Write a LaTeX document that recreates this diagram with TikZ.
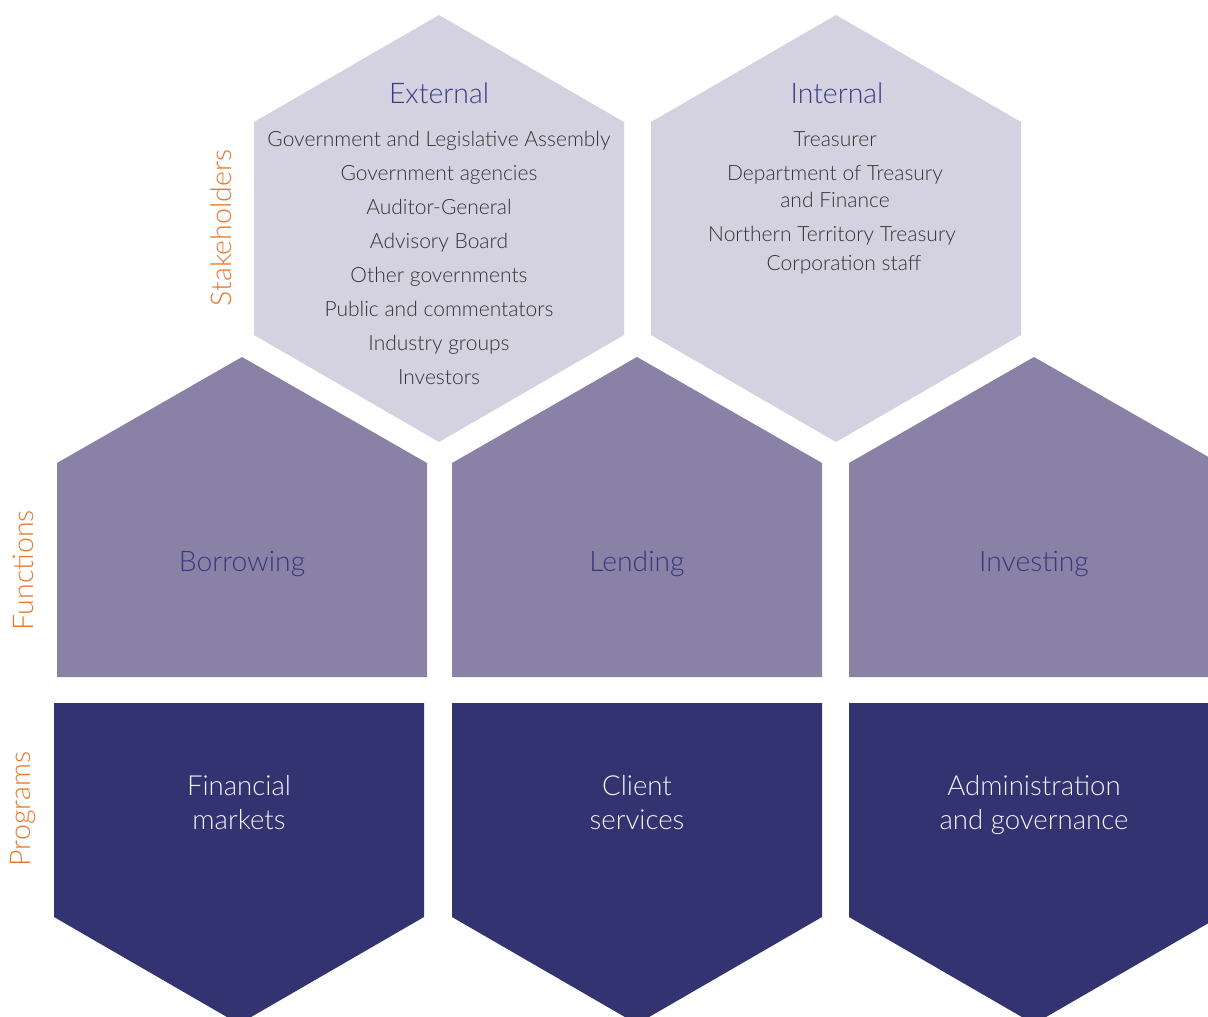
\documentclass[tikz,border=0pt]{standalone}
\usepackage{fontspec}
\setmainfont{Lato Light}
\definecolor{stakefill}{HTML}{D4D1E0}
\definecolor{funcfill}{HTML}{8981A6}
\definecolor{progfill}{HTML}{333371}
\definecolor{sidelabel}{HTML}{E8772E}
\definecolor{headtext}{HTML}{3B3C86}
\definecolor{bodytext}{HTML}{333335}
\definecolor{functext}{HTML}{37397C}
\definecolor{progtext}{HTML}{F2F2F7}
\tikzset{
  every node/.style={inner sep=0pt, anchor=base},
  hexhead/.style={text=headtext, font=\fontsize{28.4}{34}\selectfont},
  hexitem/.style={text=bodytext, font=\fontsize{21}{28}\selectfont},
  funclabel/.style={text=functext, font=\fontsize{28.3}{34}\selectfont},
  proglabel/.style={text=progtext, font=\fontsize{27.6}{34}\selectfont},
  rowlabel/.style={text=sidelabel, font=\fontsize{28.5}{32}\selectfont, rotate=90, anchor=center},
}
\begin{document}
\begin{tikzpicture}[x=1pt,y=-1pt]
\useasboundingbox (0,0) rectangle (1208,1017);
\fill[white] (0,0) rectangle (1208,1017);
\clip (0,0) rectangle (1208,1017);

% stakeholder hexagons
\fill[stakefill] (439,15) -- (624,122) -- (624,335) -- (439,442) -- (254,335) -- (254,122) -- cycle;
\fill[stakefill] (836,15) -- (1021,122) -- (1021,335) -- (836,442) -- (651,335) -- (651,122) -- cycle;

% function pentagons
\fill[funcfill] (242,357) -- (427,463) -- (427,677) -- (57,677) -- (57,463) -- cycle;
\fill[funcfill] (637,357) -- (822,463) -- (822,677) -- (452,677) -- (452,463) -- cycle;
\fill[funcfill] (1034,357) -- (1219,463) -- (1219,677) -- (849,677) -- (849,463) -- cycle;

% program pentagons
\fill[progfill] (54,703) -- (424,703) -- (424,917) -- (239,1024) -- (54,917) -- cycle;
\fill[progfill] (452,703) -- (822,703) -- (822,917) -- (637,1024) -- (452,917) -- cycle;
\fill[progfill] (849,703) -- (1219,703) -- (1219,917) -- (1034,1024) -- (849,917) -- cycle;

% row labels
\node[rowlabel] (lstake) at (221,228) {Stakeholders};
\node[rowlabel] (lfunc) at (23,570) {Functions};
\node[rowlabel] (lprog) at (23,809) {Programs};

% external stakeholders (positions are baselines)
\node[hexhead] (ext) at (439,103) {External};
\node[hexitem] (e1) at (439,146) {Government and Legislative Assembly};
\node[hexitem] (e2) at (439,180) {Government agencies};
\node[hexitem] (e3) at (439,214) {Auditor-General};
\node[hexitem] (e4) at (439,248) {Advisory Board};
\node[hexitem] (e5) at (439,282) {Other governments};
\node[hexitem] (e6) at (439,316) {Public and commentators};
\node[hexitem] (e7) at (439,350) {Industry groups};
\node[hexitem] (e8) at (439,384) {Investors};

% internal stakeholders
\node[hexhead] (int) at (837,103) {Internal};
\node[hexitem] (i1) at (835,146) {Treasurer};
\node[hexitem] (i2a) at (835,180) {Department of Treasury};
\node[hexitem] (i2b) at (835,207) {and Finance};
\node[hexitem] (i3a) at (832,241) {Northern Territory Treasury};
\node[hexitem] (i3b) at (844,270) {Corporation staff};

% functions
\node[funclabel] (fb) at (242,571) {Borrowing};
\node[funclabel] (fl) at (637,571) {Lending};
\node[funclabel] (fi) at (1034,571) {Investing};

% programs
\node[proglabel] (pf1) at (239,795) {Financial};
\node[proglabel] (pf2) at (239,829) {markets};
\node[proglabel] (pc1) at (637,795) {Client};
\node[proglabel] (pc2) at (637,829) {services};
\node[proglabel] (pa1) at (1034,795) {Administration};
\node[proglabel] (pa2) at (1034,829) {and governance};
\end{tikzpicture}
\end{document}
